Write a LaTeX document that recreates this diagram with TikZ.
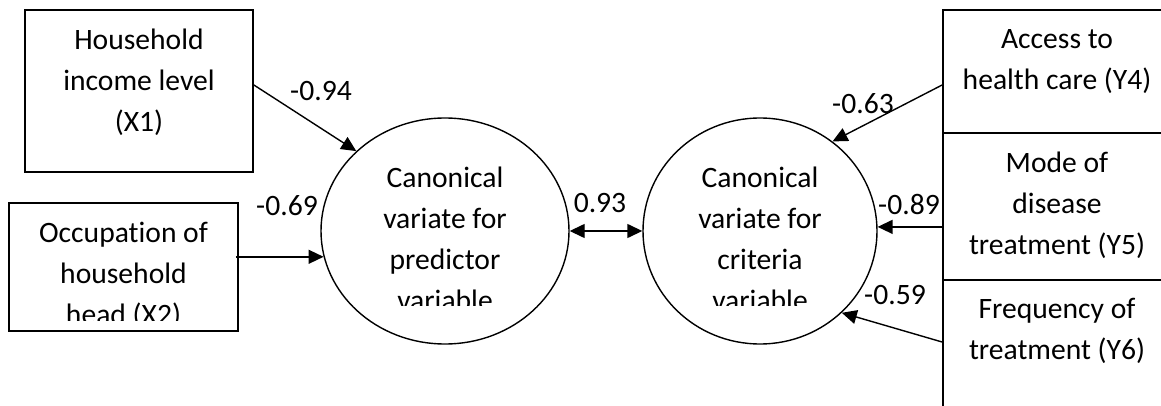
\documentclass[tikz,border=0pt]{standalone}
\usepackage{fontspec}
\setmainfont{Carlito}[Ligatures=NoCommon]
\usetikzlibrary{shapes.geometric,arrows.meta}
\definecolor{DiagramLine}{RGB}{0,0,0}
\definecolor{DiagramText}{RGB}{0,0,0}
\tikzset{
  varbox/.style={rectangle, draw=DiagramLine, line width=0.9pt, inner sep=0pt},
  variate/.style={ellipse, draw=DiagramLine, line width=0.7pt, inner sep=0pt},
  vartext/.style={align=center, inner sep=0pt, text=DiagramText,
    font=\fontsize{14.8pt}{20.5pt}\selectfont},
  coef/.style={inner sep=0pt, text=DiagramText,
    font=\fontsize{14.8pt}{20.5pt}\selectfont},
  link/.style={draw=DiagramLine, line width=0.7pt,
    -{Triangle[length=7.5pt,width=7pt]}},
  twoway/.style={draw=DiagramLine, line width=0.7pt,
    {Triangle[length=7.5pt,width=7pt]}-{Triangle[length=7.5pt,width=7pt]}}
}
\begin{document}
\begin{tikzpicture}[x=0.5pt, y=-0.5pt]
\clip (0,0) rectangle (1161,406);

\node[varbox, minimum width=114pt, minimum height=81pt] (x1) at (139,91) {};
\node[varbox, minimum width=114.5pt, minimum height=64pt] (x2) at (123.5,267) {};
\node[varbox, minimum width=114pt, minimum height=61.5pt] (y4) at (1057,71.5) {};
\node[varbox, minimum width=114pt, minimum height=73.5pt] (y5) at (1057,206.5) {};
\node[varbox, minimum width=114pt, minimum height=70pt] (y6) at (1057,350) {};
\node[variate, minimum width=124pt, minimum height=113pt] (pv) at (445,231) {};
\node[variate, minimum width=117pt, minimum height=113pt] (cv) at (760,231) {};

\node[vartext] (x1text) at (139,82) {Household\\income level\\(X1)};
\node[vartext] (y4text) at (1057,62) {Access to\\health care (Y4)};
\node[vartext] (y5text) at (1057,205) {Mode of\\disease\\treatment (Y5)};
\node[vartext] (y6text) at (1057,331) {Frequency of\\treatment (Y6)};
\begin{scope}
  \clip (0,0) rectangle (1161,320);
  \node[vartext] (x2text) at (123.5,275) {Occupation of\\household\\head (X2)};
\end{scope}
\begin{scope}
  \clip (0,0) rectangle (1161,305);
  \node[vartext] (pvtext) at (445,238.5) {Canonical\\variate for\\predictor\\variable};
  \node[vartext] (cvtext) at (760,238.5) {Canonical\\variate for\\criteria\\variable};
\end{scope}

\node[coef] (c1) at (321,91) {-0.94};
\node[coef] (c2) at (287,206) {-0.69};
\node[coef] (c0) at (600,203) {0.93};
\node[coef] (c4) at (863,104) {-0.63};
\node[coef] (c5) at (909,205) {-0.89};
\node[coef] (c6) at (895,295) {-0.59};

\draw[link] ([yshift=3pt]x1.east) -- (pv.138);
\draw[link] ([xshift=-1.5pt]x2.east |- pv.192) -- (pv.192);
\draw[link] ([yshift=-6.75pt]y4.west) -- (cv.51);
\draw[link] (y5.west |- cv.2) -- (cv.2);
\draw[link] ([yshift=4pt]y6.west) -- (cv.-45);
\draw[twoway] (pv.east) -- (cv.west);
\end{tikzpicture}
\end{document}
